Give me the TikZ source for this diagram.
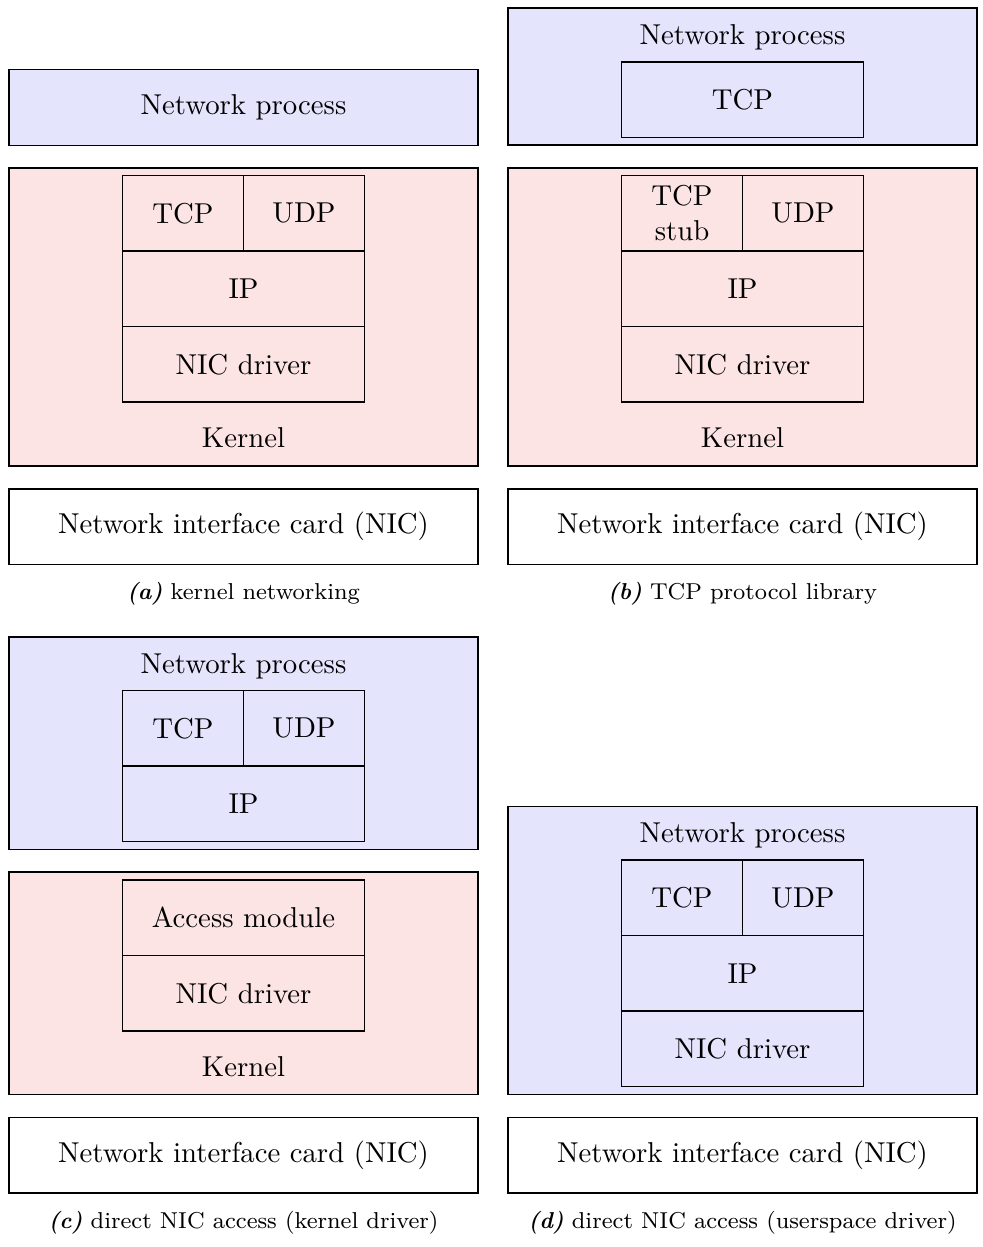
\documentclass[tikz,border=0pt]{standalone}

% one drawing unit
\newlength{\pxu}
\setlength{\pxu}{0.3478pt}

\definecolor{userfill}{RGB}{228,228,252}
\definecolor{kernfill}{RGB}{252,228,228}

% \cellbox[style]{name}{x1}{y1}{x2}{y2}{text}
\newcommand{\cellbox}[7][]{%
  \pgfmathsetmacro{\cbw}{(#5-#3)}%
  \pgfmathsetmacro{\cbh}{(#6-#4)}%
  \node[layer, #1, minimum width=\cbw\pxu, minimum height=\cbh\pxu]
    (#2) at ({(#3+#5)/2},{(#4+#6)/2}) {#7};%
}

\tikzset{
  layer/.style={draw=black, line width=0.45pt, rectangle, inner sep=0pt,
    align=center, font=\normalsize},
  user/.style={fill=userfill},
  kern/.style={fill=kernfill},
  hw/.style={fill=white},
  lbl/.style={inner sep=0pt, font=\normalsize},
  capt/.style={inner sep=0pt, font=\footnotesize}
}

\begin{document}
\begin{tikzpicture}[x=\pxu, y=-\pxu]
\useasboundingbox (0,0) rectangle (982,1247);

% ---------- (a) kernel networking ----------
\cellbox[user]{npA}{9}{69.5}{478}{145.5}{Network process}
\cellbox[kern]{kernA}{9}{168}{478}{466}{}
\cellbox[kern]{tcpA}{122.5}{175.5}{243.5}{251}{TCP}
\cellbox[kern]{udpA}{243.5}{175.5}{364.5}{251}{UDP}
\cellbox[kern]{ipA}{122.5}{251}{364.5}{326.5}{IP}
\cellbox[kern]{drvA}{122.5}{326.5}{364.5}{402}{NIC driver}
\node[lbl] (klA) at (243.5,438) {Kernel};
\cellbox[hw]{nicA}{9}{489}{478}{564.5}{Network interface card (NIC)}
\node[capt] (capA) at (243.5,594) {\textbf{\textit{(a)}} kernel networking};

% ---------- (b) TCP protocol library ----------
\cellbox[user]{npB}{508}{8}{977}{145}{}
\node[lbl] (nlB) at (742.5,37) {Network process};
\cellbox[user]{tcpuB}{621.5}{62}{863.5}{137.5}{TCP}
\cellbox[kern]{kernB}{508}{168}{977}{466}{}
\cellbox[kern]{tcpB}{621.5}{175.5}{742.5}{251}{TCP\\stub}
\cellbox[kern]{udpB}{742.5}{175.5}{863.5}{251}{UDP}
\cellbox[kern]{ipB}{621.5}{251}{863.5}{326.5}{IP}
\cellbox[kern]{drvB}{621.5}{326.5}{863.5}{402}{NIC driver}
\node[lbl] (klB) at (742.5,438) {Kernel};
\cellbox[hw]{nicB}{508}{489}{977}{564.5}{Network interface card (NIC)}
\node[capt] (capB) at (742.5,594) {\textbf{\textit{(b)}} TCP protocol library};

% ---------- (c) direct NIC access, kernel driver ----------
\cellbox[user]{npC}{9}{637}{478}{849.5}{}
\node[lbl] (nlC) at (243.5,666.5) {Network process};
\cellbox[user]{tcpC}{122.5}{690.5}{243.5}{766}{TCP}
\cellbox[user]{udpC}{243.5}{690.5}{364.5}{766}{UDP}
\cellbox[user]{ipC}{122.5}{766}{364.5}{841.5}{IP}
\cellbox[kern]{kernC}{9}{872}{478}{1094.5}{}
\cellbox[kern]{accC}{122.5}{880}{364.5}{955.5}{Access module}
\cellbox[kern]{drvC}{122.5}{955.5}{364.5}{1031}{NIC driver}
\node[lbl] (klC) at (243.5,1067) {Kernel};
\cellbox[hw]{nicC}{9}{1117.5}{478}{1193}{Network interface card (NIC)}
\node[capt] (capC) at (243.5,1223) {\textbf{\textit{(c)}} direct NIC access (kernel driver)};

% ---------- (d) direct NIC access, userspace driver ----------
\cellbox[user]{npD}{508}{806.5}{977}{1094.5}{}
\node[lbl] (nlD) at (742.5,835) {Network process};
\cellbox[user]{tcpD}{621.5}{860}{742.5}{935.5}{TCP}
\cellbox[user]{udpD}{742.5}{860}{863.5}{935.5}{UDP}
\cellbox[user]{ipD}{621.5}{935.5}{863.5}{1011}{IP}
\cellbox[user]{drvD}{621.5}{1011}{863.5}{1086.5}{NIC driver}
\cellbox[hw]{nicD}{508}{1117.5}{977}{1193}{Network interface card (NIC)}
\node[capt] (capD) at (742.5,1223) {\textbf{\textit{(d)}} direct NIC access (userspace driver)};

\end{tikzpicture}
\end{document}
